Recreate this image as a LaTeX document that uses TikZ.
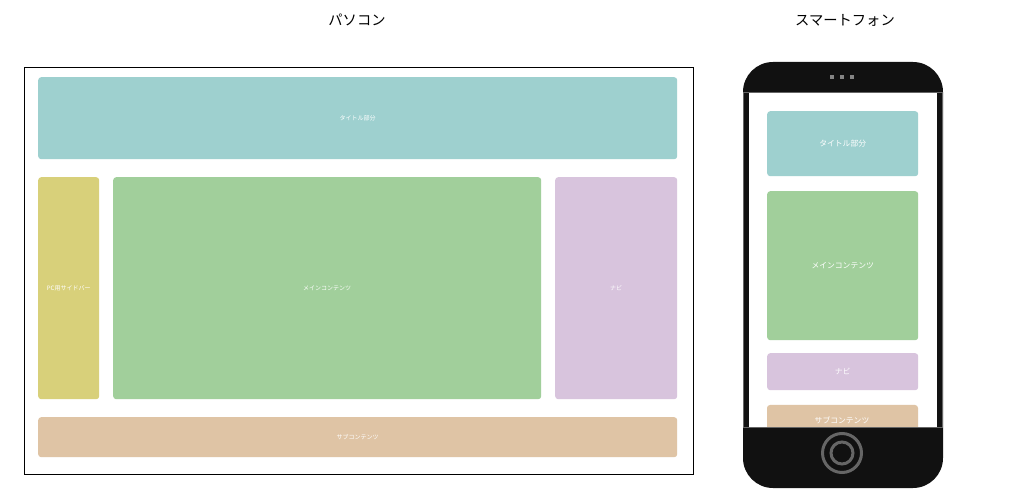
\documentclass[tikz,border=0pt]{standalone}
\usepackage{fontspec}
\setmainfont{Noto Sans CJK JP}
\definecolor{cteal}{HTML}{9ED0CF}
\definecolor{cyellow}{HTML}{D8D07A}
\definecolor{cgreen}{HTML}{A1CF9B}
\definecolor{cpurple}{HTML}{D8C4DD}
\definecolor{ctan}{HTML}{DFC4A5}
\definecolor{cphone}{HTML}{111111}
\definecolor{cgrey}{HTML}{666666}
\tikzset{
  box/.style={rounded corners=3pt, draw=none, text=white, inner sep=0pt, anchor=north west},
  pclabel/.style={font=\fontsize{6}{7}\selectfont},
  splabel/.style={font=\fontsize{7.8}{8}\selectfont},
  heading/.style={font=\fontsize{14.3}{16}\selectfont, text=black}
}
\begin{document}
\begin{tikzpicture}[x=1pt,y=-1pt]
\useasboundingbox (0,0) rectangle (1012,502);
\fill[white] (0,0) rectangle (1012,502);
% headings
\node[heading] (hpc) at (357,20) {パソコン};
\node[heading] (hsp) at (845,20) {スマートフォン};
% PC frame
\node[draw=black, line width=1pt, minimum width=669pt, minimum height=407pt, inner sep=0pt, anchor=north west] (pcframe) at (24,67) {};
\node[box, fill=cteal, minimum width=639pt, minimum height=82pt, pclabel] (ptitle) at (38,77) {タイトル部分};
\node[box, fill=cyellow, minimum width=61pt, minimum height=222pt, pclabel] (pside) at (38,177) {PC用サイドバー};
\node[box, fill=cgreen, minimum width=428pt, minimum height=222pt, pclabel] (pmain) at (113,177) {メインコンテンツ};
\node[box, fill=cpurple, minimum width=122pt, minimum height=222pt, pclabel] (pnav) at (555,177) {ナビ};
\node[box, fill=ctan, minimum width=639pt, minimum height=40pt, pclabel] (psub) at (38,417) {サブコンテンツ};
% phone body
\fill[cphone, rounded corners=30pt] (743,62) rectangle (943,488);
\draw[cgrey, line width=0.8pt, fill=cphone] (743.4,92) rectangle (942.6,427);
\fill[white] (749,93) rectangle (937,426.6);
% speaker dots
\foreach \dx in {832,842,852}{
  \fill[cgrey!80] (\dx-1.6,75.4) rectangle (\dx+1.6,78.6);
}
% home button
\draw[cgrey, line width=3pt] (842,453) circle (19.5pt);
\draw[cgrey, line width=3pt] (842,453) circle (11pt);
% phone boxes
\node[box, fill=cteal, minimum width=151pt, minimum height=65pt, splabel] (stitle) at (767,111) {タイトル部分};
\node[box, fill=cgreen, minimum width=151pt, minimum height=149pt, splabel] (smain) at (767,191) {メインコンテンツ};
\node[box, fill=cpurple, minimum width=151pt, minimum height=37pt, splabel] (snav) at (767,353) {ナビ};
\begin{scope}
\clip (749,93) rectangle (937,426.6);
\fill[ctan, rounded corners=3pt] (767,405) rectangle (918,440);
\node[text=white, splabel] (ssub) at (842,420) {サブコンテンツ};
\end{scope}
\draw[cgrey, line width=0.8pt] (743.4,427) -- (942.6,427);
\end{tikzpicture}
\end{document}
